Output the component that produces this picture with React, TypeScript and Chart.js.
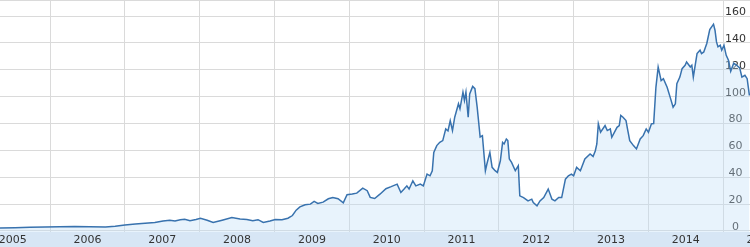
import React, { useEffect, useRef } from "react";
import { Chart, registerables } from "chart.js";

Chart.register(...registerables);

// Decimal-year dates and closing prices
const dates = [
  2005.33, 2005.53, 2005.73, 2005.93, 2006.13, 2006.33, 2006.53, 2006.74, 2006.87, 2007.0,
  2007.14, 2007.27, 2007.4, 2007.51, 2007.6, 2007.67, 2007.74, 2007.8, 2007.87, 2007.95,
  2008.01, 2008.1, 2008.18, 2008.3, 2008.43, 2008.54, 2008.63, 2008.71, 2008.78, 2008.85,
  2008.94, 2009.01, 2009.1, 2009.18, 2009.24, 2009.29, 2009.34, 2009.41, 2009.48, 2009.53,
  2009.58, 2009.65, 2009.72, 2009.78, 2009.85, 2009.92, 2009.97, 2010.04, 2010.1, 2010.18,
  2010.24, 2010.28, 2010.34, 2010.41, 2010.49, 2010.56, 2010.64, 2010.69, 2010.73, 2010.77,
  2010.8, 2010.85, 2010.89, 2010.95, 2010.99, 2011.04, 2011.08, 2011.11, 2011.13, 2011.17,
  2011.21, 2011.25, 2011.29, 2011.32, 2011.35, 2011.38, 2011.41, 2011.46, 2011.48, 2011.52,
  2011.54, 2011.56, 2011.59, 2011.61, 2011.65, 2011.68, 2011.71, 2011.75, 2011.78, 2011.82,
  2011.84, 2011.88, 2011.91, 2011.95, 2011.98, 2012.02, 2012.05, 2012.07, 2012.1, 2012.12,
  2012.14, 2012.17, 2012.22, 2012.26, 2012.28, 2012.33, 2012.39, 2012.44, 2012.46, 2012.51,
  2012.55, 2012.6, 2012.66, 2012.71, 2012.75, 2012.8, 2012.84, 2012.89, 2012.93, 2012.97,
  2013.0, 2013.04, 2013.09, 2013.15, 2013.22, 2013.26, 2013.29, 2013.31, 2013.33, 2013.36,
  2013.42, 2013.45, 2013.49, 2013.51, 2013.58, 2013.61, 2013.63, 2013.66, 2013.7, 2013.72,
  2013.75, 2013.8, 2013.84, 2013.89, 2013.93, 2013.97, 2014.0, 2014.04, 2014.07, 2014.1,
  2014.13, 2014.17, 2014.2, 2014.25, 2014.29, 2014.33, 2014.36, 2014.38, 2014.42, 2014.45,
  2014.49, 2014.51, 2014.56, 2014.58, 2014.6, 2014.65, 2014.69, 2014.71, 2014.74, 2014.78,
  2014.82, 2014.87, 2014.89, 2014.91, 2014.93, 2014.96, 2014.98, 2015.01, 2015.04, 2015.07,
  2015.1, 2015.14, 2015.18, 2015.22, 2015.25, 2015.29, 2015.32, 2015.35,
];

const prices = [
  2.3, 2.5, 2.8, 3.0, 3.1, 3.4, 3.2, 3.0, 3.5, 4.5,
  5.2, 5.8, 6.3, 7.5, 8.0, 7.5, 8.3, 8.8, 7.6, 8.5,
  9.4, 8.0, 6.3, 8.0, 10.0, 9.0, 8.5, 7.6, 8.4, 6.3,
  7.4, 8.6, 8.4, 9.5, 11.5, 15.5, 18.0, 19.5, 20.0, 22.0,
  20.5, 21.5, 24.0, 25.0, 24.0, 21.0, 27.0, 27.5, 28.2, 31.9,
  30.0, 25.0, 24.2, 27.4, 31.5, 33.0, 34.9, 28.7, 31.0, 33.6,
  31.2, 37.4, 33.6, 34.9, 33.6, 42.4, 41.1, 44.9, 58.5, 63.6,
  66.0, 67.3, 76.0, 74.5, 82.2, 74.8, 84.7, 94.7, 91.0, 103.4,
  97.2, 103.4, 84.7, 102.0, 107.7, 106.0, 92.2, 70.0, 71.0, 44.9,
  49.9, 58.5, 47.4, 44.9, 43.6, 52.3, 66.0, 64.8, 68.5, 67.3,
  53.6, 51.1, 44.9, 48.6, 26.2, 24.9, 22.4, 23.7, 21.2, 18.7,
  22.4, 24.9, 31.2, 23.7, 22.4, 24.9, 24.9, 38.6, 41.1, 42.4,
  41.1, 47.4, 44.9, 53.6, 57.3, 55.5, 59.8, 64.8, 79.8, 73.5,
  78.5, 74.8, 76.0, 69.8, 77.2, 78.5, 86.0, 84.7, 82.2, 76.0,
  67.3, 63.6, 61.1, 68.5, 71.0, 76.0, 73.5, 79.8, 80.0, 107.0,
  122.0, 112.0, 113.4, 107.1, 99.7, 92.2, 94.7, 109.7, 114.6, 120.9,
  123.4, 125.8, 122.1, 123.4, 114.6, 132.1, 134.6, 132.1, 133.3, 139.6,
  150.0, 154.0, 149.5, 140.8, 137.1, 138.3, 134.6, 138.3, 130.8, 127.1,
  119.0, 125.0, 123.4, 121.5, 114.6, 115.9, 113.4, 100.9,
];

const gridYears = [2006, 2007, 2008, 2009, 2010, 2011, 2012, 2013, 2014, 2015];
const labelYears = [2005, 2006, 2007, 2008, 2009, 2010, 2011, 2012, 2013, 2014, 2015];
const valueTicks = [0, 20, 40, 60, 80, 100, 120, 140, 160];

const X_MIN = 2005.33;
const X_MAX = 2015.358;
const Y_MIN = -0.75;
const Y_MAX = 172;

const FONT = { family: "'DejaVu Sans', Verdana, sans-serif", size: 11 };

const noPad = (s: any) => {
  s.paddingLeft = 0;
  s.paddingRight = 0;
  s.paddingTop = 0;
  s.paddingBottom = 0;
};

export default function App() {
  const ref = useRef<HTMLCanvasElement>(null);

  useEffect(() => {
    if (!ref.current) return;
    const chart = new Chart(ref.current, {
      type: "line",
      data: {
        datasets: [
          {
            data: dates.map((d, i) => ({ x: d, y: prices[i] })),
            borderColor: "#3872ae",
            borderWidth: 1.5,
            pointRadius: 0,
            tension: 0,
            fill: "start",
            backgroundColor: "rgba(190,222,246,0.35)",
          },
        ],
      },
      options: {
        animation: false,
        responsive: true,
        maintainAspectRatio: false,
        layout: { padding: 0, autoPadding: false },
        plugins: { legend: { display: false }, tooltip: { enabled: false } },
        scales: {
          x: {
            type: "linear",
            position: "bottom",
            min: X_MIN,
            max: X_MAX,
            afterBuildTicks: (s: any) => {
              s.ticks = gridYears.map((v) => ({ value: v }));
            },
            grid: { color: "#dadada", drawTicks: false },
            border: { display: false },
            ticks: { display: false },
            afterFit: (s: any) => {
              s.height = 0;
              noPad(s);
            },
          },
          xl: {
            type: "linear",
            position: "bottom",
            min: X_MIN,
            max: X_MAX,
            backgroundColor: "#d7e6f5",
            afterBuildTicks: (s: any) => {
              s.ticks = labelYears.map((v) => ({ value: v + 0.5 }));
            },
            grid: { display: false, drawTicks: false, z: -2 },
            border: { display: false },
            ticks: {
              callback: (v: any) => String(Math.floor(Number(v))),
              color: "#333",
              font: FONT,
              padding: 2,
              maxRotation: 0,
              autoSkip: false,
            },
            afterFit: (s: any) => {
              s.height = 15;
              noPad(s);
            },
          },
          y: {
            position: "right",
            min: Y_MIN,
            max: Y_MAX,
            afterBuildTicks: (s: any) => {
              s.ticks = [...valueTicks, Y_MAX].map((v) => ({ value: v }));
            },
            grid: { color: "#dadada", drawTicks: false },
            border: { display: false },
            ticks: {
              mirror: true,
              crossAlign: "center",
              padding: -4,
              labelOffset: -4,
              color: "#333",
              font: FONT,
              callback: (v: any) => (Number(v) === Y_MAX ? "" : String(v)),
            },
            afterFit: (s: any) => {
              s.width = 0;
              noPad(s);
            },
          },
        } as any,
      },
    });
    return () => chart.destroy();
  }, []);

  return (
    <div style={{ position: "fixed", left: 0, top: 0, width: 750, height: 247 }}>
      <canvas ref={ref} />
    </div>
  );
}
